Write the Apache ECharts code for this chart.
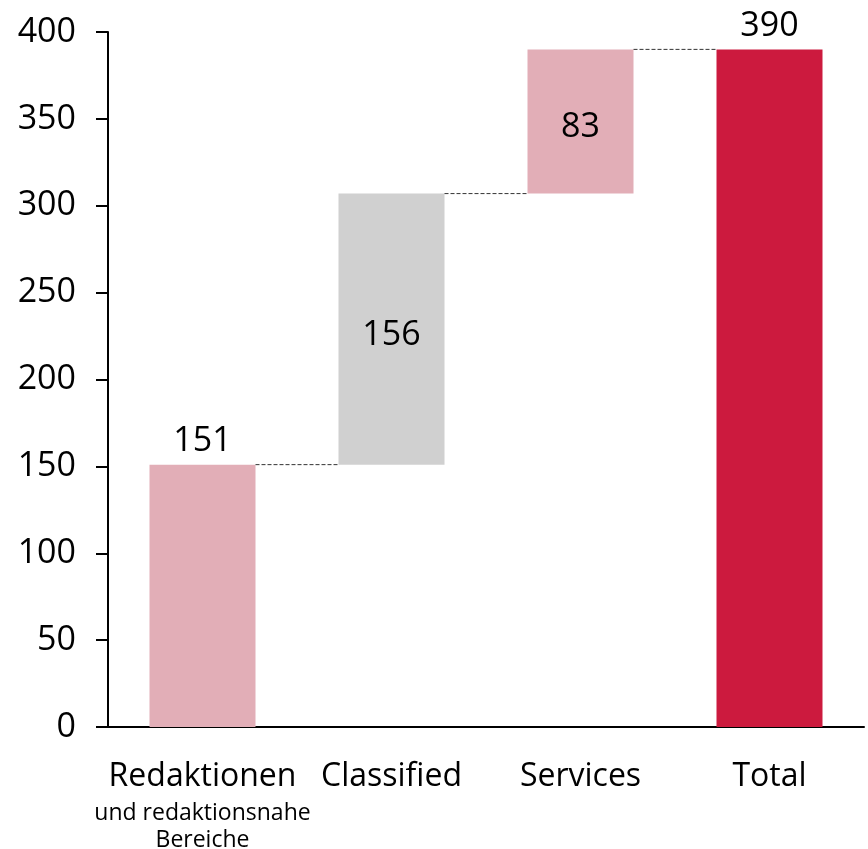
<!DOCTYPE html>
<html>
<head>
<meta charset="utf-8">
<script src="https://cdn.jsdelivr.net/npm/echarts@6/dist/echarts.min.js"></script>
<style>
  html, body { margin: 0; padding: 0; background: #fff; }
  #chart { width: 868px; height: 849px; }
</style>
</head>
<body>
<div id="chart"></div>
<script>
// waterfall data
const categories = ['Redaktionen', 'Classified', 'Services', 'Total']
const values = [151, 156, 83, 390]
const isTotal = [false, false, false, true]
const barColors = ['#e2aeb7', '#d0d0d0', '#e2aeb7', '#cc1a3e']
const labelPos = ['top', 'inside', 'inside', 'top']
const yTicks = [0, 50, 100, 150, 200, 250, 300, 350, 400]

// base (invisible) part of each bar
let running = 0
const bases = values.map((v, i) => {
  if (isTotal[i]) return 0
  const b = running
  running += v
  return b
})
const tops = values.map((v, i) => bases[i] + v)

// connectors: from bar i to bar i+1 at level tops[i]
const connectors = tops.slice(0, -1).map((t, i) => [i, t])

const font = '"Open Sans", "DejaVu Sans", sans-serif'

const chart = echarts.init(document.getElementById('chart'), null, { renderer: 'canvas' })

chart.setOption({
  animation: false,
  textStyle: { fontFamily: font },
  grid: {
    left: 108, right: 4, top: 32, bottom: 122,
    containLabel: false,
    outerBoundsMode: 'none',
  },
  xAxis: {
    type: 'category',
    data: categories,
    axisLine: { lineStyle: { color: '#000', width: 2 } },
    axisTick: { show: false },
    axisLabel: {
      margin: 27,
      interval: 0,
      color: '#000',
      formatter: (v, i) => i === 0
        ? '{a|' + v + '}\n{b|und redaktionsnahe}\n{b|Bereiche}'
        : '{a|' + v + '}',
      rich: {
        a: { fontSize: 32, lineHeight: 46, fontFamily: font, color: '#000' },
        b: { fontSize: 23, lineHeight: 27, fontFamily: font, color: '#000' },
      },
    },
  },
  yAxis: {
    type: 'value',
    min: yTicks[0],
    max: yTicks[yTicks.length - 1],
    interval: 50,
    splitLine: { show: false },
    axisLine: { show: true, lineStyle: { color: '#000', width: 2 } },
    axisTick: { show: true, length: 12, lineStyle: { color: '#000', width: 2 } },
    axisLabel: {
      margin: 32,
      fontSize: 34,
      color: '#000',
      fontFamily: font,
      padding: [6, 0, 0, 0],
    },
  },
  series: [
    {
      type: 'bar',
      stack: 'wf',
      barWidth: 106,
      itemStyle: { color: 'transparent' },
      emphasis: { disabled: true },
      data: bases,
    },
    {
      type: 'bar',
      stack: 'wf',
      barWidth: 106,
      data: values.map((v, i) => ({
        value: v,
        itemStyle: { color: barColors[i] },
        label: {
          show: true,
          position: labelPos[i],
          distance: 6,
          fontSize: 34,
          color: '#000',
          fontFamily: font,
          offset: labelPos[i] === 'inside' ? [0, 6] : [0, 0],
        },
      })),
    },
    {
      type: 'custom',
      data: connectors,
      z: 5,
      renderItem: (params, api) => {
        const i = api.value(0)
        const lvl = api.value(1)
        const w = 106
        const p0 = api.coord([i, lvl])
        const p1 = api.coord([i + 1, lvl])
        return {
          type: 'line',
          shape: { x1: p0[0] + w / 2, y1: p0[1], x2: p1[0] - w / 2, y2: p1[1] },
          style: { stroke: '#333', lineWidth: 1, lineDash: [4, 2] },
        }
      },
    },
  ],
})
</script>
</body>
</html>
